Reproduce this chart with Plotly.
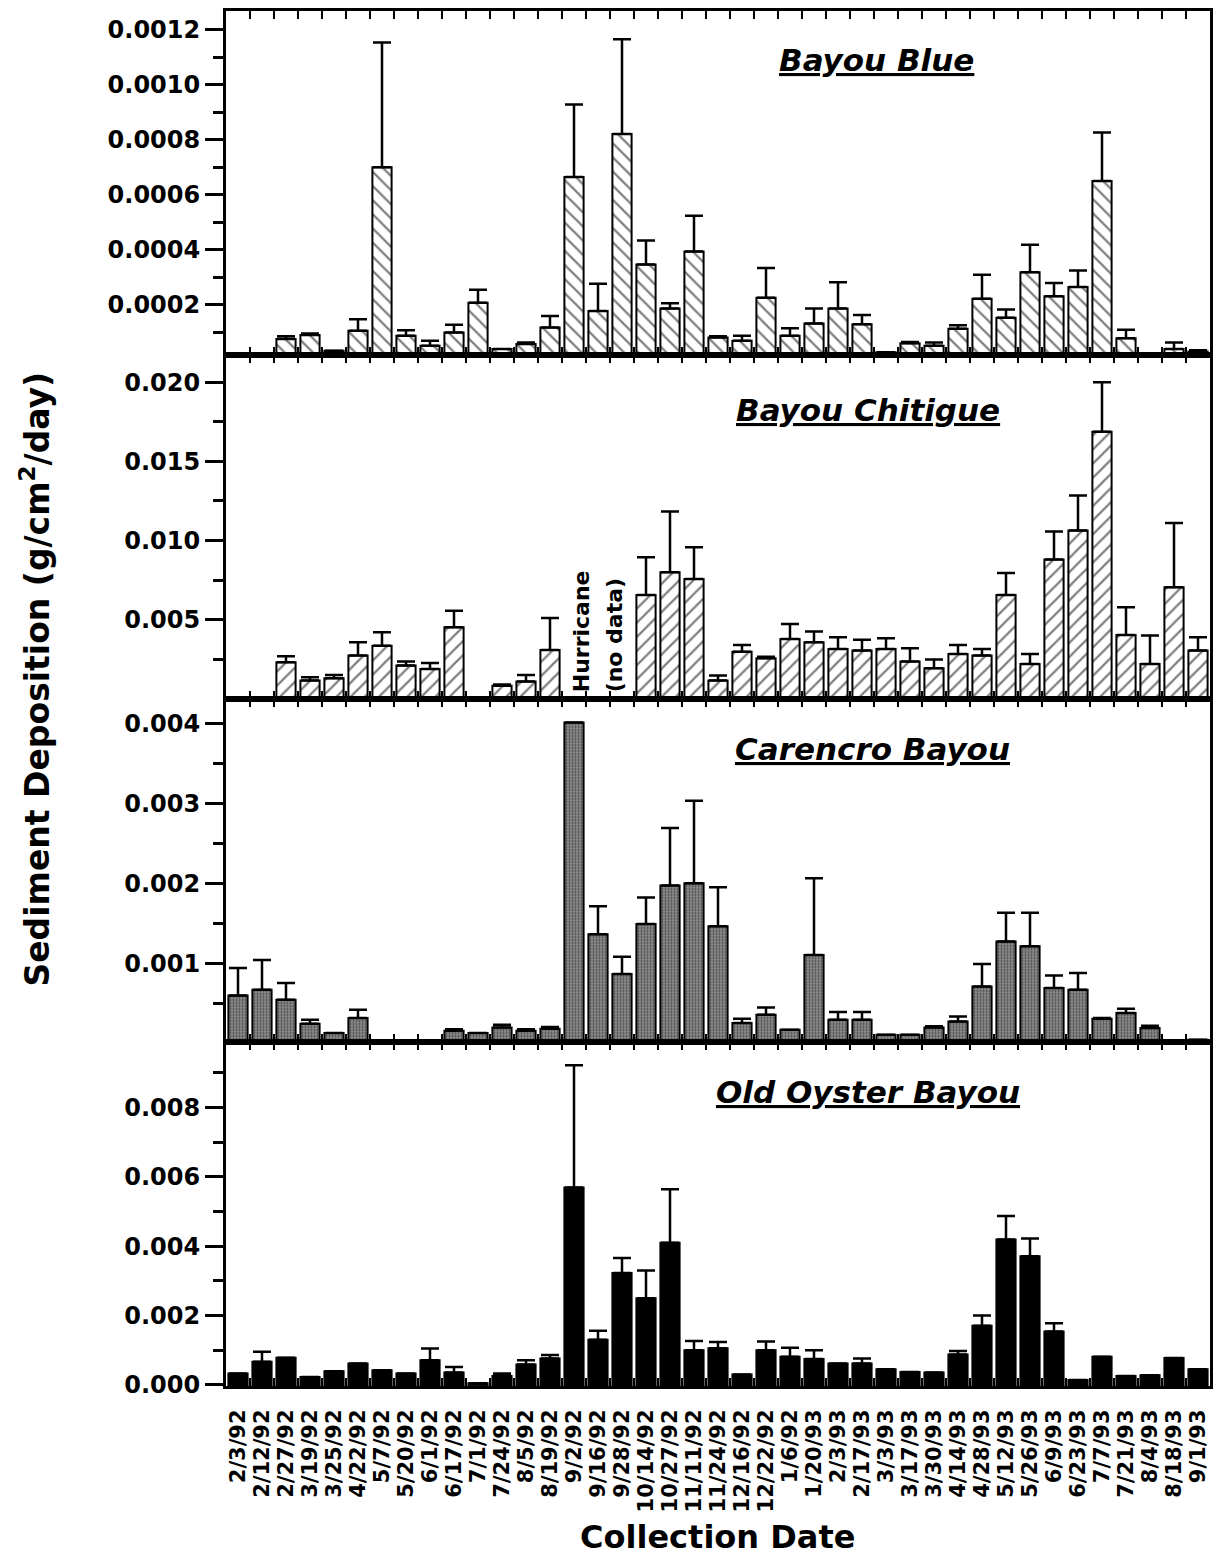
import plotly.graph_objects as go
from plotly.subplots import make_subplots

# Collection dates (one category per sampling event)
dates = ["2/3/92", "2/12/92", "2/27/92", "3/19/92", "3/25/92", "4/22/92", "5/7/92",
         "5/20/92", "6/1/92", "6/17/92", "7/1/92", "7/24/92", "8/5/92", "8/19/92",
         "9/2/92", "9/16/92", "9/28/92", "10/14/92", "10/27/92", "11/11/92", "11/24/92",
         "12/16/92", "12/22/92", "1/6/92", "1/20/93", "2/3/93", "2/17/93", "3/3/93",
         "3/17/93", "3/30/93", "4/14/93", "4/28/93", "5/12/93", "5/26/93", "6/9/93",
         "6/23/93", "7/7/93", "7/21/93", "8/4/93", "8/18/93", "9/1/93"]

# Sediment deposition (g/cm2/day): means and upper error (SE)
bayou_blue = [None, None, 0.000075, 0.000090, 0.000033, 0.000105, 0.000700, 0.000087,
              0.000051, 0.000099, 0.000207, 0.000039, 0.000057, 0.000117, 0.000665,
              0.000177, 0.000821, 0.000346, 0.000186, 0.000394, 0.000081, 0.000069,
              0.000225, 0.000087, 0.000132, 0.000186, 0.000129, 0.000027, 0.000060,
              0.000051, 0.000113, 0.000222, 0.000153, 0.000318, 0.000231, 0.000265,
              0.000650, 0.000078, 0.000008, 0.000039, 0.000030]
bayou_blue_err = [0, 0, 0.000010, 0.000005, 0, 0.000042, 0.000454, 0.000020,
                  0.000018, 0.000028, 0.000048, 0, 0.000006, 0.000042, 0.000264,
                  0.000099, 0.000345, 0.000088, 0.000019, 0.000130, 0.000004, 0.000018,
                  0.000109, 0.000027, 0.000054, 0.000096, 0.000034, 0, 0.000004,
                  0.000012, 0.000012, 0.000087, 0.000030, 0.000100, 0.000048, 0.000060,
                  0.000177, 0.000031, 0, 0.000024, 0.000004]

bayou_chitigue = [None, None, 0.00231, 0.00115, 0.00130, 0.00273, 0.00336, 0.00210,
                  0.00188, 0.00452, None, 0.00083, 0.00109, 0.00309, None, None, None,
                  0.00656, 0.00800, 0.00757, 0.00115, 0.00298, 0.00256, 0.00378, 0.00357,
                  0.00315, 0.00305, 0.00315, 0.00235, 0.00193, 0.00283, 0.00273, 0.00656,
                  0.00220, 0.00880, 0.01063, 0.01688, 0.00403, 0.00220, 0.00705, 0.00305]
bayou_chitigue_err = [0, 0, 0.00038, 0.00021, 0.00020, 0.00084, 0.00084, 0.00025,
                      0.00038, 0.00105, 0, 0.00007, 0.00041, 0.00202, 0, 0, 0,
                      0.00238, 0.00383, 0.00200, 0.00032, 0.00042, 0.00010, 0.00095, 0.00068,
                      0.00074, 0.00069, 0.00067, 0.00084, 0.00055, 0.00057, 0.00042, 0.00139,
                      0.00063, 0.00177, 0.00221, 0.00312, 0.00175, 0.00180, 0.00406, 0.00084]

carencro = [0.000596, 0.000667, 0.000542, 0.000242, 0.000125, 0.000313, 0.000020, None,
            None, 0.000154, 0.000125, 0.000196, 0.000154, 0.000180, 0.004010, 0.001360,
            0.000863, 0.001490, 0.001970, 0.002000, 0.001460, 0.000250, 0.000354, 0.000167,
            0.001100, 0.000292, 0.000292, 0.000104, 0.000104, 0.000196, 0.000271, 0.000708,
            0.001270, 0.001210, 0.000688, 0.000667, 0.000304, 0.000375, 0.000188, 0.000030,
            0.000040]
carencro_err = [0.000342, 0.000373, 0.000208, 0.000050, 0, 0.000104, 0, 0,
                0, 0.000020, 0, 0.000034, 0.000020, 0.000020, 0, 0.000350,
                0.000217, 0.000330, 0.000720, 0.001030, 0.000490, 0.000055, 0.000092, 0,
                0.000960, 0.000096, 0.000096, 0, 0, 0.000014, 0.000062, 0.000280,
                0.000360, 0.000420, 0.000158, 0.000208, 0.000010, 0.000055, 0.000029, 0,
                0]

old_oyster = [0.000328, 0.000667, 0.000783, 0.000232, 0.000397, 0.000618, 0.000425,
              0.000328, 0.000715, 0.000358, 0.000050, 0.000260, 0.000589, 0.000763,
              0.005690, 0.001300, 0.003230, 0.002500, 0.004100, 0.001000, 0.001060,
              0.000300, 0.001000, 0.000810, 0.000745, 0.000618, 0.000620, 0.000454,
              0.000377, 0.000357, 0.000879, 0.001710, 0.004190, 0.003710, 0.001540,
              0.000140, 0.000810, 0.000260, 0.000280, 0.000780, 0.000454]
old_oyster_err = [0, 0.000290, 0, 0, 0, 0, 0,
                  0, 0.000335, 0.000160, 0, 0.000070, 0.000126, 0.000100,
                  0.003530, 0.000260, 0.000430, 0.000800, 0.001540, 0.000270, 0.000180,
                  0, 0.000250, 0.000260, 0.000255, 0, 0.000140, 0,
                  0, 0, 0.000100, 0.000290, 0.000680, 0.000510, 0.000240,
                  0, 0, 0, 0, 0, 0]

site_names = ["Bayou Blue", "Bayou Chitigue", "Carencro Bayou", "Old Oyster Bayou"]

# Page geometry (pixels)
W, H = 1224, 1558
L, R, T, B = 226, 1210, 8, 1386


def px_x(px):
    return (px - L) / (R - L)


def px_y(py):
    return (B - py) / (B - T)


FONT = "DejaVu Sans"

fig = make_subplots(rows=4, cols=1, shared_xaxes=True, vertical_spacing=0)


def bar_trace(values, errors, marker):
    return go.Bar(
        x=dates, y=values, width=0.8, marker=marker,
        error_y=dict(type="data", symmetric=False, array=errors,
                     arrayminus=[0] * len(errors), color="black",
                     thickness=2.5, width=9),
        showlegend=False, hoverinfo="skip",
    )


outline = dict(color="black", width=2)
markers = [
    dict(color="white", line=outline,
         pattern=dict(shape="\\", fgcolor="black", bgcolor="white", size=10, solidity=0.22)),
    dict(color="white", line=outline,
         pattern=dict(shape="/", fgcolor="black", bgcolor="white", size=10, solidity=0.22)),
    dict(color="#8c8c8c", line=outline,
         pattern=dict(shape=".", fgcolor="#000000", bgcolor="#8c8c8c", size=3, solidity=0.35)),
    dict(color="black", line=outline),
]
series = [(bayou_blue, bayou_blue_err), (bayou_chitigue, bayou_chitigue_err),
          (carencro, carencro_err), (old_oyster, old_oyster_err)]

for i, ((vals, errs), mk) in enumerate(zip(series, markers)):
    fig.add_trace(bar_trace(vals, errs, mk), row=i + 1, col=1)

# y-axis scales per panel: range, major step, minor step, label format
y_specs = [
    dict(range=[0.000018, 0.001269], dtick=0.0002, minor=0.0001, fmt=".4f"),
    dict(range=[0.00002, 0.02174], dtick=0.005, minor=0.0025, fmt=".3f"),
    dict(range=[0.00001, 0.00431], dtick=0.001, minor=0.0005, fmt=".3f"),
    dict(range=[-0.00003, 0.00988], dtick=0.002, minor=0.001, fmt=".3f"),
]

for i, s in enumerate(y_specs):
    fig.update_yaxes(
        row=i + 1, col=1,
        range=s["range"], tickmode="linear", tick0=0, dtick=s["dtick"],
        tickformat=s["fmt"], ticks="outside", ticklen=18, tickwidth=2.5,
        tickcolor="black",
        minor=dict(tickmode="linear", tick0=0, dtick=s["minor"], ticks="outside",
                   ticklen=10, tickwidth=2.5, tickcolor="black"),
        showline=True, linewidth=3, linecolor="black", mirror=True,
        showgrid=False, zeroline=False,
        tickfont=dict(family=FONT, size=24, color="black", weight="bold"),
    )

for i in range(4):
    fig.update_xaxes(
        row=i + 1, col=1,
        type="category", range=[-0.5, len(dates) - 0.5],
        tickmode="array", tickvals=dates, ticktext=dates,
        tickson="boundaries", ticks="inside", ticklen=8, tickwidth=2,
        tickcolor="black", mirror="ticks",
        showline=True, linewidth=3, linecolor="black",
        showgrid=False, zeroline=False,
        tickangle=-90, ticklabelstandoff=12,
        tickfont=dict(family=FONT, size=21, color="black", weight="bold"),
    )

annotations = []

# Panel site names
title_pos = [(876, 57.5), (868, 407.5), (872, 747.5), (868, 1091)]
for name, (cx, cy) in zip(site_names, title_pos):
    annotations.append(dict(
        text="<u>" + name + "</u>", xref="paper", yref="paper",
        x=px_x(cx), y=px_y(cy), xanchor="center", yanchor="middle",
        showarrow=False,
        font=dict(family=FONT, size=31, color="black", weight="bold", style="italic"),
    ))

# Missing-sample note in the Bayou Chitigue panel
for txt, xpos in [("Hurricane", 14.3), ("(no data)", 15.7)]:
    annotations.append(dict(
        text=txt, xref="x2", yref="y2", x=xpos, y=0.0003, xanchor="center",
        yanchor="bottom", textangle=-90, showarrow=False,
        font=dict(family=FONT, size=22, color="black", weight="bold"),
    ))

# Axis titles
annotations.append(dict(
    text="Sediment Deposition (g/cm<sup>2</sup>/day)", xref="paper", yref="paper",
    x=px_x(36), y=px_y(678), xanchor="center", yanchor="middle",
    textangle=-90, showarrow=False,
    font=dict(family=FONT, size=33, color="black", weight="bold"),
))
annotations.append(dict(
    text="Collection Date", xref="paper", yref="paper",
    x=px_x(717), y=px_y(1537), xanchor="center", yanchor="middle",
    showarrow=False,
    font=dict(family=FONT, size=32, color="black", weight="bold"),
))

fig.update_layout(
    width=W, height=H,
    margin=dict(l=L, r=W - R, t=T, b=H - B, pad=0),
    paper_bgcolor="white", plot_bgcolor="white",
    bargap=0.2, showlegend=False,
    annotations=annotations,
)

fig.write_html("out.html")
